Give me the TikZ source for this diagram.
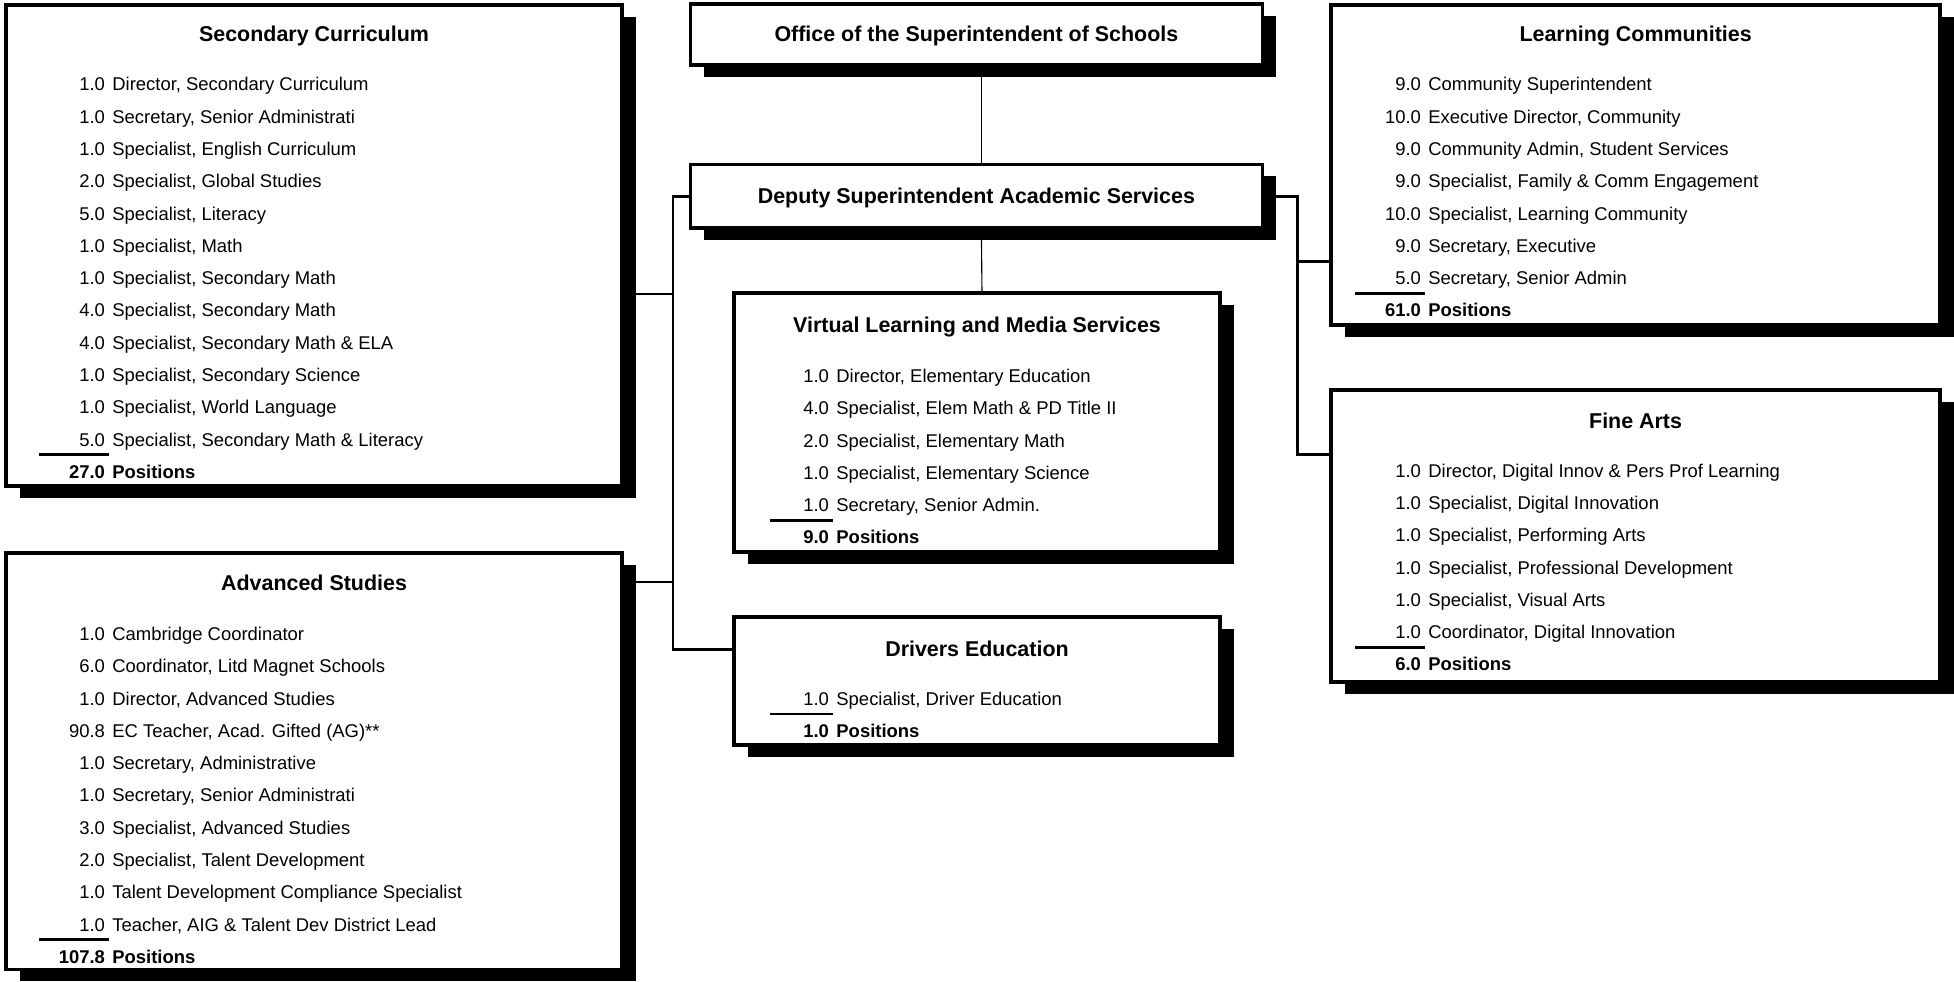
\documentclass[tikz,border=0pt]{standalone}
\usepackage{fontspec}
\setmainfont{Liberation Sans}
\usepackage{array}
\usepackage{tikz}
\usetikzlibrary{positioning,shadows}
\newcolumntype{N}{>{\raggedleft\arraybackslash}p{48pt}}
\newcommand{\lastfte}[2][56pt]{#2\makebox[0pt][r]{\smash{\rule[-8.1pt]{#1}{2.2pt}}\hspace{-3pt}}}

\begin{document}
\begin{tikzpicture}[
    x=1pt, y=-1pt,
    unit/.style={
        draw,
        line width=3pt,
        fill=white,
        outer sep=0pt,
        drop shadow={shadow xshift=11pt, shadow yshift=-9.5pt, fill=black, opacity=1}
    },
    head/.style={
        anchor=base,
        inner sep=0pt,
        font=\fontsize{17.2}{20}\selectfont\bfseries
    },
    roster/.style={
        anchor=base west,
        inner sep=0pt,
        font=\fontsize{14.8}{25.9}\selectfont
    },
    link/.style={line width=2.2pt},
    stem/.style={line width=0.9pt}
]
\useasboundingbox (0,0) rectangle (1568,788);

\node[unit, minimum width=459pt, minimum height=49pt, anchor=north west] (office) at (554,3) {};
\node[unit, minimum width=459pt, minimum height=51pt, below=80pt of office] (deputy) {};
\node[unit, minimum width=494pt, minimum height=386pt, anchor=north west] (sec) at (5,4) {};
\node[unit, minimum width=494pt, minimum height=334pt, below=54pt of sec] (adv) {};
\node[unit, minimum width=489pt, minimum height=257pt, anchor=north west] (lc) at (1068,4) {};
\node[unit, minimum width=489pt, minimum height=234pt, below=52pt of lc] (fa) {};
\node[unit, minimum width=390pt, minimum height=208pt, anchor=north west] (vlm) at (589,235) {};
\node[unit, minimum width=390pt, minimum height=103pt, below=52pt of vlm] (drv) {};

\node[head] (officeT) at ([yshift=-30pt]office.north) {Office of the Superintendent of Schools};
\node[head] (deputyT) at ([yshift=-31pt]deputy.north) {Deputy Superintendent Academic Services};
\node[head] (secT) at ([yshift=-29pt]sec.north) {Secondary Curriculum};
\node[head] (advT) at ([yshift=-30pt]adv.north) {Advanced Studies};
\node[head] (lcT) at ([yshift=-29pt]lc.north) {Learning Communities};
\node[head] (faT) at ([yshift=-31pt]fa.north) {Fine Arts};
\node[head] (vlmT) at ([yshift=-32pt]vlm.north) {Virtual Learning and Media Services};
\node[head] (drvT) at ([yshift=-32pt]drv.north) {Drivers Education};

\node[roster] (secL) at ([xshift=31pt, yshift=-69pt]sec.north west) {\begin{tabular}[t]{@{}N@{\hspace{6pt}}l@{}}
1.0 & Director, Secondary Curriculum\\
1.0 & Secretary, Senior Administrati\\
1.0 & Specialist, English Curriculum\\
2.0 & Specialist, Global Studies\\
5.0 & Specialist, Literacy\\
1.0 & Specialist, Math\\
1.0 & Specialist, Secondary Math\\
4.0 & Specialist, Secondary Math\\
4.0 & Specialist, Secondary Math \& ELA\\
1.0 & Specialist, Secondary Science\\
1.0 & Specialist, World Language\\
\lastfte{5.0} & Specialist, Secondary Math \& Literacy\\
\textbf{27.0} & \textbf{Positions}
\end{tabular}};

\node[roster] (advL) at ([xshift=31pt, yshift=-70pt]adv.north west) {\begin{tabular}[t]{@{}N@{\hspace{6pt}}l@{}}
1.0 & Cambridge Coordinator\\
6.0 & Coordinator, Litd Magnet Schools\\
1.0 & Director, Advanced Studies\\
90.8 & EC Teacher, Acad. Gifted (AG)**\\
1.0 & Secretary, Administrative\\
1.0 & Secretary, Senior Administrati\\
3.0 & Specialist, Advanced Studies\\
2.0 & Specialist, Talent Development\\
1.0 & Talent Development Compliance Specialist\\
\lastfte{1.0} & Teacher, AIG \& Talent Dev District Lead\\
\textbf{107.8} & \textbf{Positions}
\end{tabular}};

\node[roster] (lcL) at ([xshift=24pt, yshift=-69pt]lc.north west) {\begin{tabular}[t]{@{}N@{\hspace{6pt}}l@{}}
9.0 & Community Superintendent\\
10.0 & Executive Director, Community\\
9.0 & Community Admin, Student Services\\
9.0 & Specialist, Family \& Comm Engagement\\
10.0 & Specialist, Learning Community\\
9.0 & Secretary, Executive\\
\lastfte{5.0} & Secretary, Senior Admin\\
\textbf{61.0} & \textbf{Positions}
\end{tabular}};

\node[roster] (faL) at ([xshift=24pt, yshift=-70pt]fa.north west) {\begin{tabular}[t]{@{}N@{\hspace{6pt}}l@{}}
1.0 & Director, Digital Innov \& Pers Prof Learning\\
1.0 & Specialist, Digital Innovation\\
1.0 & Specialist, Performing Arts\\
1.0 & Specialist, Professional Development\\
1.0 & Specialist, Visual Arts\\
\lastfte{1.0} & Coordinator, Digital Innovation\\
\textbf{6.0} & \textbf{Positions}
\end{tabular}};

\node[roster] (vlmL) at ([xshift=28pt, yshift=-72pt]vlm.north west) {\begin{tabular}[t]{@{}N@{\hspace{6pt}}l@{}}
1.0 & Director, Elementary Education\\
4.0 & Specialist, Elem Math \& PD Title II\\
2.0 & Specialist, Elementary Math\\
1.0 & Specialist, Elementary Science\\
\lastfte[50pt]{1.0} & Secretary, Senior Admin.\\
\textbf{9.0} & \textbf{Positions}
\end{tabular}};

\node[roster] (drvL) at ([xshift=28pt, yshift=-71pt]drv.north west) {\begin{tabular}[t]{@{}N@{\hspace{6pt}}l@{}}
\lastfte[50pt]{1.0} & Specialist, Driver Education\\
\textbf{1.0} & \textbf{Positions}
\end{tabular}};

\coordinate (secin) at ([yshift=-232pt]sec.north east);
\coordinate (advin) at ([yshift=-23pt]adv.north east);
\coordinate (drvin) at ([yshift=-26pt]drv.north west);
\coordinate (lcin) at ([yshift=-206pt]lc.north west);
\coordinate (fain) at ([yshift=-52pt]fa.north west);

\draw[link] (deputy.west) -- ++(-14,0) coordinate (lbus) |- (drvin);
\draw[link] (secin) -- (secin -| lbus);
\draw[link] (advin) -- (advin -| lbus);
\draw[link] (deputy.east) -- ++(28,0) coordinate (rbus) |- (fain);
\draw[link] (lcin) -- (lcin -| rbus);
\draw[stem] ([xshift=4pt]office.south) -- ([xshift=4pt]deputy.north);
\draw[stem] ([xshift=4pt]deputy.south) -- ([xshift=4pt]vlm.north);
\end{tikzpicture}
\end{document}
